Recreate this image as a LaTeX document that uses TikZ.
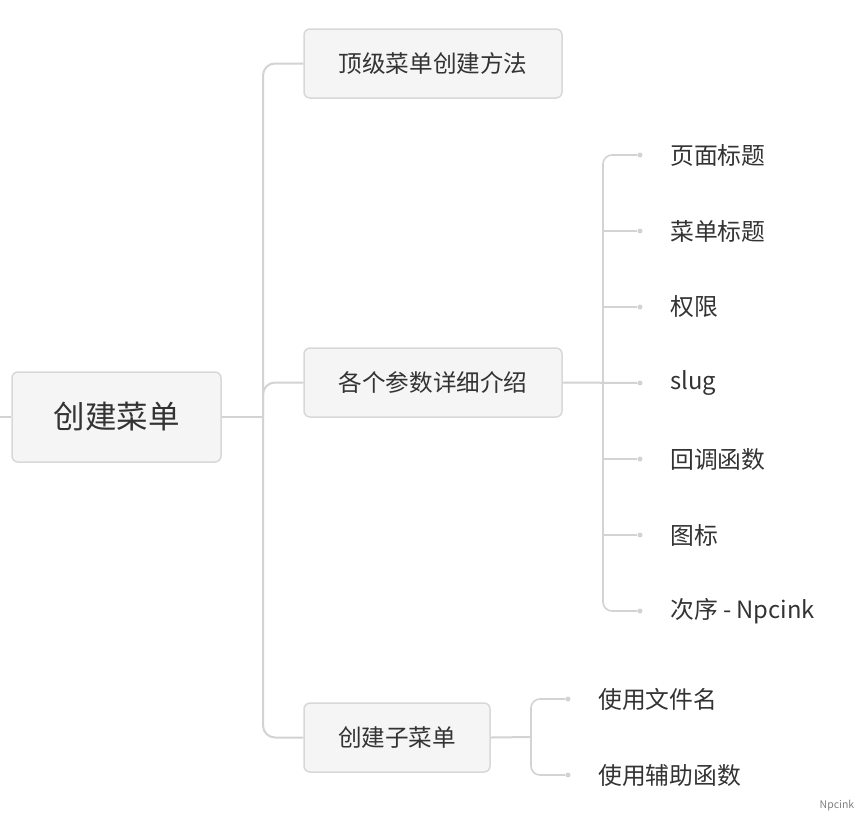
\documentclass[tikz,border=0pt]{standalone}
\usepackage{fontspec}
\setmainfont{Noto Sans CJK SC}
\definecolor{linkgray}{HTML}{D3D3D3}
\definecolor{boxfill}{HTML}{F5F5F5}
\definecolor{boxline}{HTML}{D8D8D8}
\definecolor{txt}{HTML}{333333}
\tikzset{
  topicbox/.style={draw=boxline, line width=1.5pt, fill=boxfill, rounded corners=6pt,
    inner sep=0pt, text=txt, font=\fontsize{23.6}{28}\selectfont},
  rootbox/.style={topicbox, minimum width=209pt, minimum height=90pt,
    font=\fontsize{31.5}{36}\selectfont},
  leaf/.style={anchor=west, inner sep=0pt, text=txt, font=\fontsize{23.8}{28}\selectfont},
  link/.style={draw=linkgray, line width=2pt},
  twig/.style={draw=linkgray, line width=1.6pt, rounded corners=9pt},
  knob/.style={circle, fill=linkgray, inner sep=0pt, minimum size=5pt}
}

\begin{document}
\begin{tikzpicture}[x=1pt, y=-1pt]
    \useasboundingbox (0, 0) rectangle (864, 822);

    % root and main topics
    \node[rootbox] (root) at (116.5, 417) {创建菜单};
    \node[topicbox, minimum width=258pt, minimum height=69pt] (top) at (433, 63.5) {顶级菜单创建方法};
    \node[topicbox, minimum width=258pt, minimum height=69pt] (param) at (433, 382.5) {各个参数详细介绍};
    \node[topicbox, minimum width=186pt, minimum height=69pt] (sub) at (397, 737.5) {创建子菜单};

    \coordinate (edge) at (0, 417);
    \coordinate (trunk) at (263, 417);
    \draw[link] (edge) -- (root.west);
    \draw[link] (root.east) -- (trunk);
    \draw[link, rounded corners=12pt] (top.west) -| (trunk) |- (sub.west);
    \draw[link, rounded corners=12pt] (trunk) |- (param.west);

    % parameters
    \coordinate (pspine) at (603, 383);
    \foreach \name/\label/\y in {p1/页面标题/155, p2/菜单标题/231, p3/权限/307,
        p4/slug/383, p5/回调函数/459, p6/图标/535, p7/次序 - Npcink/611} {
      \node[knob] (\name-k) at (640, \y) {};
      \node[leaf] (\name) at (670, \y) {\label};
    }
    \draw[twig] (p1-k) -| (pspine) |- (p7-k);
    \draw[link] (param.east) -- (p4-k);
    \foreach \name in {p2, p3, p5, p6}
      \draw[twig] (603, 0 |- \name-k) -- (\name-k);

    % sub menus
    \coordinate (sspine) at (531, 737);
    \node[knob] (s1-k) at (568, 699) {};
    \node[leaf] (s1) at (598, 699) {使用文件名};
    \node[knob] (s2-k) at (568, 775) {};
    \node[leaf] (s2) at (598, 775) {使用辅助函数};
    \draw[link] (sub.east) -- (sspine);
    \draw[twig] (s1-k) -| (sspine) |- (s2-k);

    \node[text=gray, font=\fontsize{10.5}{12}\selectfont] (mark) at (837, 806) {Npcink};
  \end{tikzpicture}
\end{document}
